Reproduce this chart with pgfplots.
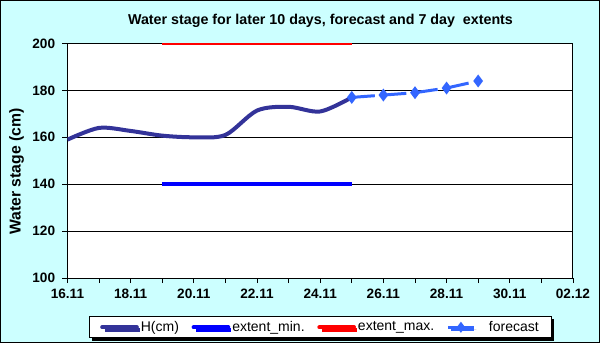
\documentclass[border=0pt]{standalone}
\usepackage{fontspec}
\setmainfont{Liberation Sans}
\usepackage{pgfplots}
\pgfplotsset{compat=1.18}
\usetikzlibrary{shadows}
\definecolor{bgcyan}{HTML}{CCFFFF}
\definecolor{cH}{HTML}{333399}
\definecolor{cMin}{HTML}{0000FF}
\definecolor{cMax}{HTML}{FF0000}
\definecolor{cFc}{HTML}{3366FF}
\pgfplotsset{
  longline/.style={legend image code/.code={\draw[##1, line cap=round] (1pt,0pt) -- (27pt,0pt);}},
  fcline/.style={legend image code/.code={\draw[mark repeat=2, mark phase=2, ##1, solid, line width=2pt, mark size=2.5pt]
    plot coordinates {(0pt,0pt) (9.5pt,0pt) (19pt,0pt)};}},
}

\begin{document}
\begin{tikzpicture}
\useasboundingbox (0,0) rectangle (450pt,257.25pt);
\fill[bgcyan] (0,0) rectangle (450pt,257.25pt);
\draw[black, line width=1pt] (0.5pt,0.5pt) rectangle (449.5pt,256.75pt);
\node[font=\fontsize{10.7}{13}\selectfont\bfseries] at (240.4pt,241.5pt)
  {Water stage for later 10 days, forecast and 7 day~ extents};
\node[font=\fontsize{11.8}{14}\selectfont\bfseries, rotate=90] at (12.5pt,128.6pt)
  {Water stage (cm)};
\begin{axis}[
  at={(50.6pt,48.75pt)}, anchor=south west,
  scale only axis, width=379.1pt, height=175.9pt,
  xmin=0, xmax=16, ymin=100, ymax=200,
  axis background/.style={fill=white},
  axis line style={black, line width=0.75pt},
  ymajorgrids, major grid style={black, line width=0.6pt},
  ytick={100,120,...,200},
  xtick={0,2,...,16}, minor x tick num=1,
  xticklabels={16.11,18.11,20.11,22.11,24.11,26.11,28.11,30.11,02.12},
  tick align=outside, tick pos=left,
  major tick length=3.75pt, minor tick length=3.75pt,
  tick style={black, line width=0.6pt},
  ticklabel style={font=\fontsize{10.2}{12}\selectfont\bfseries},
  xticklabel style={yshift=-1pt},
  yticklabel style={xshift=-2pt},
  /pgf/number format/assume math mode=true,
  legend columns=4,
  legend cell align=left,
  legend style={at={(0.5005,-0.21)}, anchor=center, draw=black, line width=0.75pt,
    fill=white, font=\fontsize{10.5}{12}\selectfont,
    inner xsep=8pt, inner ysep=2.5pt,
    drop shadow={opacity=1, fill=black, shadow xshift=2pt, shadow yshift=-2pt},
    /tikz/every even column/.append style={column sep=8pt},
    nodes={inner xsep=1.5pt, inner ysep=1pt}},
]
\addplot[cH, line width=3pt, smooth, tension=0.5, longline]
  coordinates {(0,159) (1,164) (2,162.7) (3,160.7) (4,160) (5,161) (6,171.4) (7,173) (8,171) (9,177)};
\addlegendentry{H(cm)}
\addplot[cMin, line width=3pt, longline]
  coordinates {(3,140) (9,140)};
\addlegendentry{extent\_min.}
\addplot[cMax, line width=3pt, longline]
  coordinates {(3,200) (9,200)};
\addlegendentry{extent\_max.}
\addplot[cFc, line width=2.25pt, dash pattern=on 17.3pt off 6.4pt,
  mark=diamond*, mark size=3pt, mark options={solid}, fcline]
  coordinates {(9,177) (10,178) (11,179) (12,181) (13,184)};
\addlegendentry{\hspace{9pt}forecast}
\end{axis}
\end{tikzpicture}
\end{document}
